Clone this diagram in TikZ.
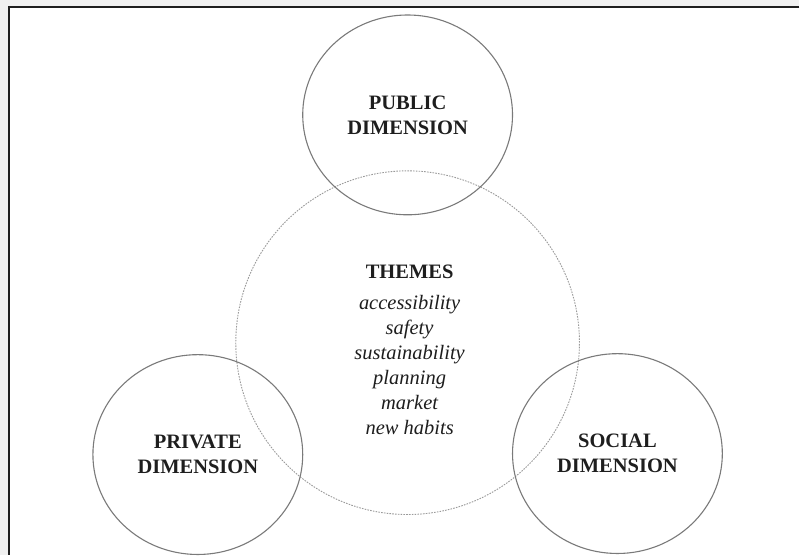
\documentclass[tikz,border=0pt]{standalone}
\usepackage{fontspec}
\setmainfont{Liberation Serif}
\usetikzlibrary{shapes.geometric}
\definecolor{pagebg}{HTML}{F0F0F0}
\definecolor{ringgray}{HTML}{7A7A7A}
\definecolor{dotgray}{HTML}{9A9A9A}
\definecolor{inkc}{HTML}{1E1E1E}
\begin{document}
\begin{tikzpicture}[x=1pt,y=-1pt,
  dimring/.style={ellipse,draw=ringgray,line width=1.1pt,minimum width=210pt,minimum height=200pt,inner sep=0pt,
    align=center,text=inkc,font=\bfseries\fontsize{20.5}{25}\selectfont},
  themering/.style={circle,draw=dotgray,line width=0.9pt,dash pattern=on 1.6pt off 1.2pt,minimum size=344pt,inner sep=0pt},
  themetext/.style={align=center,text=inkc,inner sep=0pt,font=\fontsize{20.5}{25}\selectfont}]
\fill[pagebg] (0,0) rectangle (800,556);
\fill[white] (9,7) rectangle (800,556);
\draw[line width=1.5pt,color=inkc] (800,7) -- (9,7) -- (9,556);
\useasboundingbox (0,0) rectangle (800,556);
\node[themering] (themes) at (408,343) {};
\node[themetext] (themelist) at (410,350) {\textbf{THEMES}\\[6pt]\itshape accessibility\\\itshape safety\\\itshape sustainability\\\itshape planning\\\itshape market\\\itshape new habits};
\node[dimring] (public) at (408,115) {PUBLIC\\DIMENSION};
\node[dimring] (private) at (198,455) {PRIVATE\\DIMENSION};
\node[dimring] (social) at (618,454) {SOCIAL\\DIMENSION};
\end{tikzpicture}
\end{document}
